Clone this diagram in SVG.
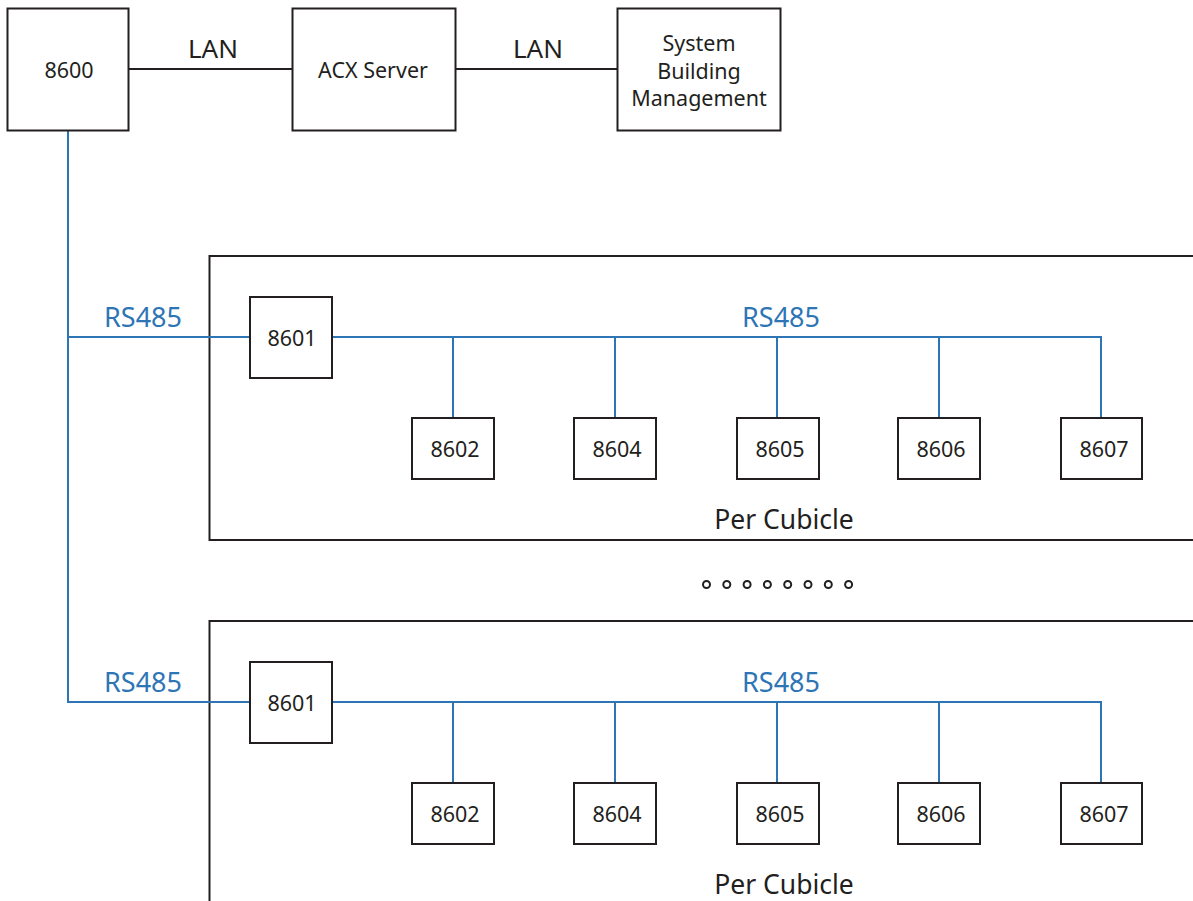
<svg xmlns="http://www.w3.org/2000/svg" width="1193" height="901" viewBox="0 0 1193 901">
<style>
.box{fill:#fff;stroke:#231f20;stroke-width:2}
.frame{fill:none;stroke:#231f20;stroke-width:2}
.k{stroke:#231f20;stroke-width:2;fill:none}
.b{stroke:#2e75b6;stroke-width:2;fill:none}
text{font-family:"Noto Sans","Open Sans",sans-serif;dominant-baseline:central;text-anchor:middle;fill:#231f20}
.t{font-size:21.5px}
.l{font-size:26px}
.pc{font-size:26.5px}
.bl{font-size:27px;fill:#2e75b6}
.dot{fill:none;stroke:#231f20;stroke-width:2}
</style>
<rect width="1193" height="901" fill="#fff"/>
<g id="cubicle-frames">
<path class="frame" d="M1193,256 H209.5 V540 H1193"/>
<path class="frame" d="M1193,621 H209.5 V901"/>
</g>
<g id="connectors">
<line class="k" x1="128" y1="69" x2="292" y2="69"/>
<line class="k" x1="455" y1="69" x2="617" y2="69"/>
<path class="b" d="M68,130 V702 H250"/>
<line class="b" x1="68" y1="337" x2="250" y2="337"/>
<path class="b" d="M332,337 H1101 V418 M453,337 V418 M615,337 V418 M777,337 V418 M939,337 V418"/>
<path class="b" d="M332,702 H1101 V783 M453,702 V783 M615,702 V783 M777,702 V783 M939,702 V783"/>
<text class="l" x="213" y="48">LAN</text>
<text class="l" x="538" y="48">LAN</text>
<text class="bl" x="143" y="316">RS485</text>
<text class="bl" x="781" y="316">RS485</text>
<text class="bl" x="143" y="681">RS485</text>
<text class="bl" x="781" y="681">RS485</text>
</g>
<g id="n8600"><rect class="box" x="7.5" y="8.5" width="121" height="122"/><text class="t" x="69" y="69">8600</text></g>
<g id="acx"><rect class="box" x="292.5" y="8.5" width="163" height="122"/><text class="t" x="373" y="69">ACX Server</text></g>
<g id="sbm"><rect class="box" x="617.5" y="8.5" width="163" height="122"/>
<text class="t" x="699" y="42">System</text><text class="t" x="699" y="70">Building</text><text class="t" x="699" y="97">Management</text></g>
<g id="c1-8601"><rect class="box" x="250" y="297" width="82" height="81"/><text class="t" x="292" y="337">8601</text></g>
<g id="c1-8602"><rect class="box" x="412" y="418" width="82" height="61"/><text class="t" x="455" y="448">8602</text></g>
<g id="c1-8604"><rect class="box" x="574" y="418" width="82" height="61"/><text class="t" x="617" y="448">8604</text></g>
<g id="c1-8605"><rect class="box" x="737" y="418" width="82" height="61"/><text class="t" x="780" y="448">8605</text></g>
<g id="c1-8606"><rect class="box" x="898" y="418" width="82" height="61"/><text class="t" x="941" y="448">8606</text></g>
<g id="c1-8607"><rect class="box" x="1061" y="418" width="81" height="61"/><text class="t" x="1104" y="448">8607</text></g>
<text class="pc" x="784" y="519">Per Cubicle</text>
<g id="c2-8601"><rect class="box" x="250" y="662" width="82" height="81"/><text class="t" x="292" y="702">8601</text></g>
<g id="c2-8602"><rect class="box" x="412" y="783" width="82" height="61"/><text class="t" x="455" y="813">8602</text></g>
<g id="c2-8604"><rect class="box" x="574" y="783" width="82" height="61"/><text class="t" x="617" y="813">8604</text></g>
<g id="c2-8605"><rect class="box" x="737" y="783" width="82" height="61"/><text class="t" x="780" y="813">8605</text></g>
<g id="c2-8606"><rect class="box" x="898" y="783" width="82" height="61"/><text class="t" x="941" y="813">8606</text></g>
<g id="c2-8607"><rect class="box" x="1061" y="783" width="81" height="61"/><text class="t" x="1104" y="813">8607</text></g>
<text class="pc" x="784" y="884">Per Cubicle</text>
<g id="ellipsis">
<circle class="dot" cx="706.5" cy="584.5" r="3.5"/>
<circle class="dot" cx="726.8" cy="584.5" r="3.5"/>
<circle class="dot" cx="747.1" cy="584.5" r="3.5"/>
<circle class="dot" cx="767.4" cy="584.5" r="3.5"/>
<circle class="dot" cx="787.7" cy="584.5" r="3.5"/>
<circle class="dot" cx="808" cy="584.5" r="3.5"/>
<circle class="dot" cx="828.3" cy="584.5" r="3.5"/>
<circle class="dot" cx="848.6" cy="584.5" r="3.5"/>
</g>
</svg>
